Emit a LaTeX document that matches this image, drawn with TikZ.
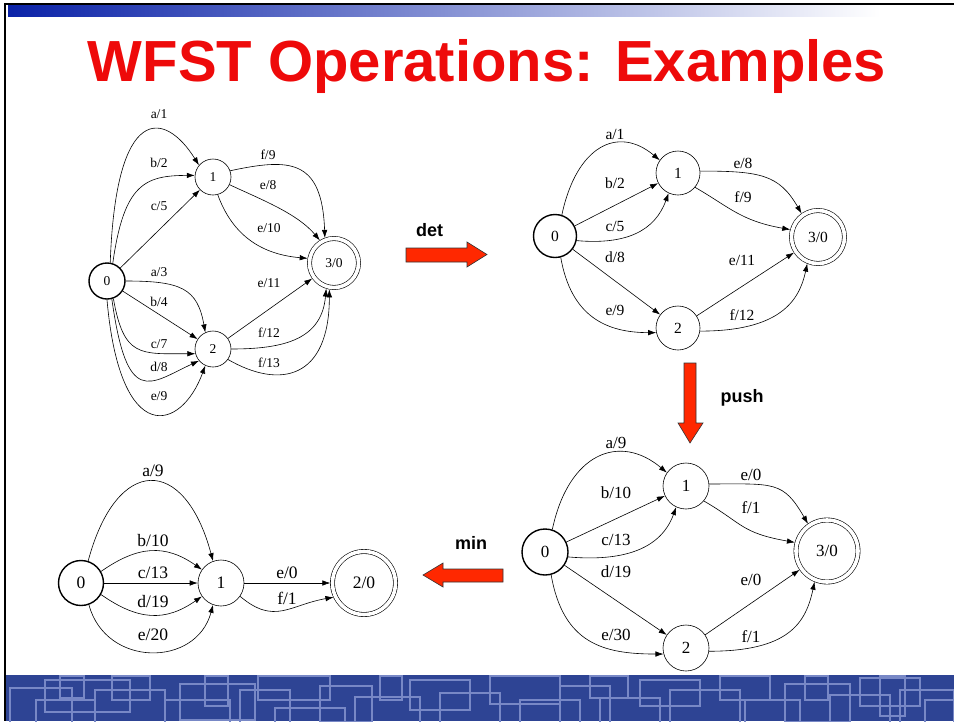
\documentclass[tikz,border=0pt]{standalone}
\usepackage{fontspec}
\setmainfont{Liberation Serif}
\newfontfamily\slidesans{Liberation Sans}
\usetikzlibrary{arrows.meta, positioning}

\definecolor{titlered}{RGB}{238,10,10}
\definecolor{opred}{RGB}{255,40,0}
\definecolor{slideblue}{RGB}{46,68,148}
\definecolor{patternblue}{RGB}{120,136,198}
\definecolor{barblue}{RGB}{10,34,168}

\tikzset{
  state/.style={circle, draw, line width=.6pt, inner sep=0pt},
  start/.style={state, line width=1.4pt},
  final/.style={state, double, double distance=3.6pt, outer sep=2.2pt},
  trans/.style={-{Latex[length=8pt,width=5.5pt]}, line width=.6pt},
  elabel/.style={inner sep=0pt},
  oparrow/.style={fill=opred, draw=black!80, line width=.6pt},
  oplabel/.style={font=\slidesans\bfseries\fontsize{18}{20}\selectfont},
  patternline/.style={draw=patternblue, line width=1.3pt}
}

\begin{document}
\begin{tikzpicture}[x=1pt, y=1pt]
\fill[white] (0,0) rectangle (954,-721);
\useasboundingbox (0,0) rectangle (954,-721);

% slide frame
\shade[left color=barblue, right color=white] (8,-5) rectangle (880,-16);
\draw[line width=2pt] (4,-4) -- (954,-4);
\draw[line width=1.5pt] (5,-4) -- (5,-721);
\fill[slideblue] (6,-675) rectangle (954,-721);
\begin{scope}
\clip (6,-675) rectangle (954,-721);
\foreach \ax/\ay/\bx/\by in {10/688/72/740, 36/700/95/740, 45/680/130/712, 95/690/165/740,
  112/676/150/700, 165/700/230/740, 180/684/255/720, 240/690/290/740, 258/676/330/700,
  275/708/345/740, 320/686/372/722, 355/697/420/740, 410/680/470/710, 440/693/500/740,
  490/676/560/704, 520/700/580/740, 560/686/610/724, 600/698/660/740, 640/680/700/706,
  670/690/740/740, 720/676/770/700, 745/700/800/740, 785/684/850/722, 830/695/890/740,
  860/678/920/706, 900/690/954/740, 925/700/970/740, 60/676/84/698, 205/676/228/706,
  380/676/402/700, 590/676/628/698, 805/676/828/700, 880/676/905/716}
  \draw[patternline] (\ax,-\ay) rectangle (\bx,-\by);
\end{scope}

\node[anchor=base, text=titlered, font=\slidesans\bfseries\fontsize{58}{62}\selectfont] (title) at (487,-81) {WFST Operations: Examples};

% original transducer
\begin{scope}[font=\fontsize{13.5}{16}\selectfont]
\node[start, minimum size=36] (tl0) at (107,-281) {0};
\node[state, minimum size=36] (tl1) at (213,-177) {1};
\node[state, minimum size=36] (tl2) at (213,-349) {2};
\node[final, minimum size=49] (tl3) at (334,-263) {3/0};
\draw[trans] (tl0.80) .. controls +(88:160) and +(122:65) .. (tl1.140);
\draw[trans] (tl0.72) .. controls +(82:80) and +(180:50) .. (tl1.175);
\draw[trans] (tl0) -- (tl1);
\draw[trans] (tl0.0) .. controls +(0:55) and +(100:45) .. (tl2.115);
\draw[trans] (tl0) -- (tl2);
\draw[trans] (tl0.-70) .. controls +(-80:60) and +(180:55) .. (tl2.195);
\draw[trans] (tl0.-75) .. controls +(-82:110) and +(205:55) .. (tl2.220);
\draw[trans] (tl0.-90) .. controls +(-85:150) and +(250:70) .. (tl2.245);
\draw[trans] (tl1.20) .. controls +(12:60) and +(92:80) .. (tl3.110);
\draw[trans] (tl1.-25) .. controls +(-25:35) and +(130:35) .. (tl3.122);
\draw[trans] (tl1.-75) .. controls +(-70:40) and +(175:50) .. (tl3.170);
\draw[trans] (tl2) -- (tl3);
\draw[trans] (tl2.0) .. controls +(0:55) and +(265:50) .. (tl3.253);
\draw[trans] (tl2.-35) .. controls +(-30:60) and +(270:90) .. (tl3.260);
\foreach \lx/\ly/\sym/\wt [count=\i] in {159/114/a/1, 159/163/b/2, 159/206/c/5, 159/272/a/3,
  159/302/b/4, 159/344/c/7, 159/367/d/8, 159/396/e/9, 268/155/f/9, 268/185/e/8,
  269/228/e/10, 269/283/e/11, 269/333/f/12, 269/363/f/13}
  \node[elabel] (tll\i) at (\lx,-\ly) {\sym/\wt};
\end{scope}

% determinized
\begin{scope}[font=\fontsize{15.5}{18}\selectfont]
\node[start, minimum size=43] (tr0) at (555,-236) {0};
\node[state, minimum size=44] (tr1) at (678,-173) {1};
\node[state, minimum size=44] (tr2) at (678,-328) {2};
\node[final, minimum size=53] (tr3) at (818,-237) {3/0};
\draw[trans] (tr0.72) .. controls +(78:70) and +(140:55) .. (tr1.145);
\draw[trans] (tr0) -- (tr1);
\draw[trans] (tr0.-12) .. controls +(-5:50) and +(250:40) .. (tr1.245);
\draw[trans] (tr0) -- (tr2);
\draw[trans] (tr0.-75) .. controls +(-80:60) and +(180:50) .. (tr2.192);
\draw[trans] (tr1.5) .. controls +(0:60) and +(120:45) .. (tr3.125);
\draw[trans] (tr1.-40) .. controls +(-30:40) and +(170:50) .. (tr3.165);
\draw[trans] (tr2) -- (tr3);
\draw[trans] (tr2.-8) .. controls +(0:80) and +(258:38) .. (tr3.248);
\foreach \lx/\ly/\sym/\wt [count=\i] in {615/134/a/1, 615/183/b/2, 615/226/c/5, 615/257/d/8,
  615/310/e/9, 743/163/e/8, 743/197/f/9, 742/260/e/11, 742/315/f/12}
  \node[elabel] (trl\i) at (\lx,-\ly) {\sym/\wt};
\end{scope}

% pushed
\begin{scope}[font=\fontsize{17}{20}\selectfont]
\node[start, minimum size=46] (br0) at (545,-552) {0};
\node[state, minimum size=46] (br1) at (686,-486) {1};
\node[state, minimum size=46] (br2) at (686,-648) {2};
\node[final, minimum size=62] (br3) at (827,-551) {3/0};
\draw[trans] (br0.72) .. controls +(78:78) and +(140:62) .. (br1.145);
\draw[trans] (br0) -- (br1);
\draw[trans] (br0.-12) .. controls +(-5:55) and +(250:45) .. (br1.245);
\draw[trans] (br0) -- (br2);
\draw[trans] (br0.-75) .. controls +(-80:70) and +(180:60) .. (br2.195);
\draw[trans] (br1.5) .. controls +(0:65) and +(120:50) .. (br3.125);
\draw[trans] (br1.-40) .. controls +(-30:45) and +(170:55) .. (br3.165);
\draw[trans] (br2) -- (br3);
\draw[trans] (br2.-8) .. controls +(0:80) and +(258:42) .. (br3.248);
\foreach \lx/\ly/\sym/\wt [count=\i] in {616/443/a/9, 616/493/b/10, 616/540/c/13, 616/572/d/19,
  616/635/e/30, 751/475/e/0, 751/508/f/1, 751/580/e/0, 751/637/f/1}
  \node[elabel] (brl\i) at (\lx,-\ly) {\sym/\wt};
\end{scope}

% minimized
\begin{scope}[font=\fontsize{17.5}{20}\selectfont]
\node[start, minimum size=45] (bl0) at (81,-583) {0};
\node[state, minimum size=46] (bl1) at (221,-583) {1};
\node[final, minimum size=63] (bl2) at (364,-583) {2/0};
\draw[trans] (bl0.72) .. controls +(75:110) and +(105:110) .. (bl1.110);
\draw[trans] (bl0.30) .. controls +(35:45) and +(145:45) .. (bl1.145);
\draw[trans] (bl0) -- (bl1);
\draw[trans] (bl0.-30) .. controls +(-35:45) and +(-145:45) .. (bl1.-145);
\draw[trans] (bl0.-70) .. controls +(-75:65) and +(-105:65) .. (bl1.-110);
\draw[trans] (bl1) -- (bl2);
\draw[trans] (bl1.-35) .. controls +(-40:45) and +(190:45) .. (bl2.205);
\foreach \lx/\ly/\sym/\wt [count=\i] in {153/471/a/9, 153/541/b/10, 153/573/c/13, 153/602/d/19,
  153/635/e/20, 287/573/e/0, 287/598/f/1}
  \node[elabel] (bll\i) at (\lx,-\ly) {\sym/\wt};
\end{scope}

% operations
\draw[oparrow] (406,-248) -- (467,-248) -- (467,-242) -- (487,-254.5) -- (467,-267) -- (467,-262) -- (406,-262) -- cycle;
\draw[oparrow] (684,-363) -- (696,-363) -- (696,-423) -- (703,-423) -- (690,-443) -- (678,-423) -- (684,-423) -- cycle;
\draw[oparrow] (503,-569) -- (443,-569) -- (443,-563) -- (423,-575) -- (443,-587) -- (443,-582) -- (503,-582) -- cycle;
\node[oplabel] (detlabel) at (429.5,-230) {det};
\node[oplabel] (pushlabel) at (742,-398) {push};
\node[oplabel] (minlabel) at (471,-543) {min};
\end{tikzpicture}
\end{document}
